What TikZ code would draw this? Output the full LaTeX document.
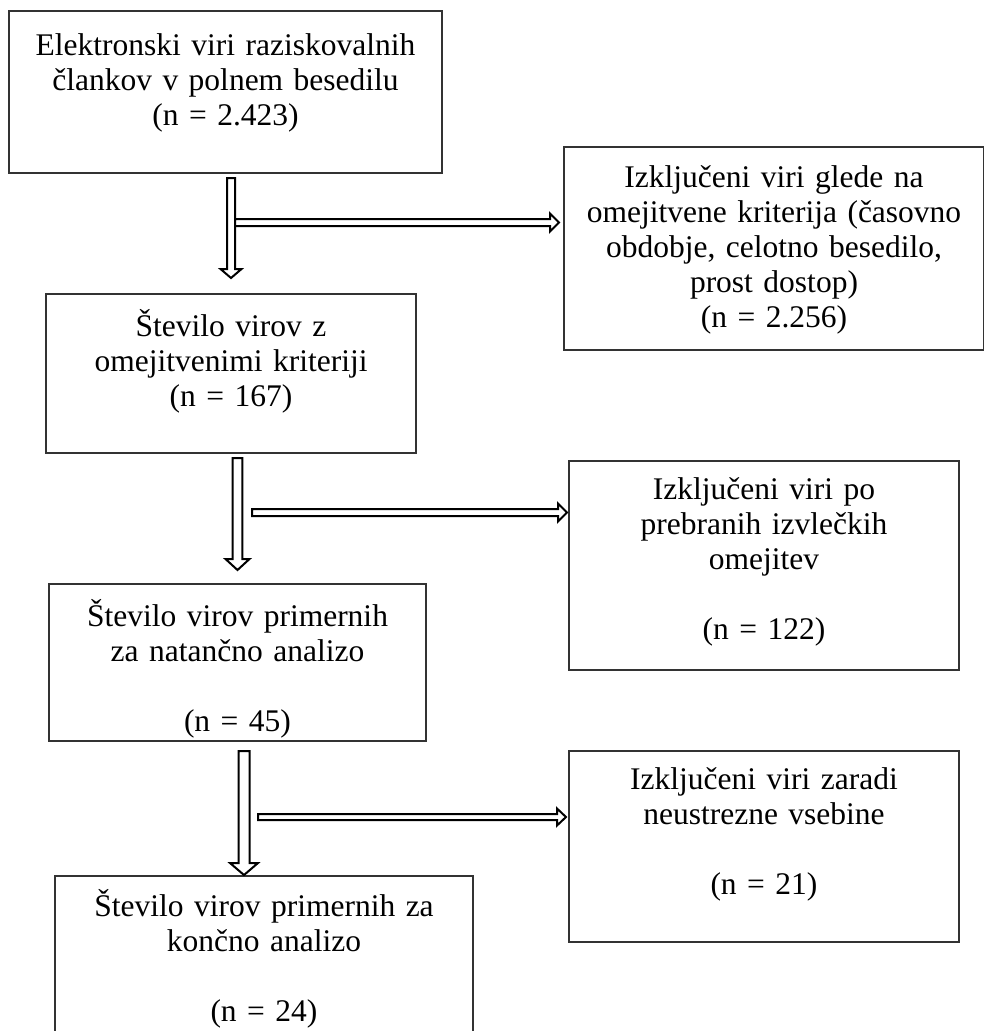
\documentclass[tikz,border=0pt]{standalone}
\usepackage{fontspec}
\setmainfont{Liberation Serif}
\newcommand\dnblock[6]{% cx, top, head base, tip, shaft half, head half
  \draw[blockarrow] (#1-#5,#2) -- (#1+#5,#2) -- (#1+#5,#3) -- (#1+#6,#3) -- (#1,#4) -- (#1-#6,#3) -- (#1-#5,#3) -- cycle;}
\newcommand\rtblock[6]{% cy, left, head base, tip, shaft half, head half
  \draw[blockarrow] (#2,#1-#5) -- (#3,#1-#5) -- (#3,#1-#6) -- (#4,#1) -- (#3,#1+#6) -- (#3,#1+#5) -- (#2,#1+#5) -- cycle;}
\tikzset{
  box/.style={draw=black!80, line width=1.2pt, fill=white, rectangle, inner sep=0pt},
  txt/.style={anchor=base, inner sep=0pt, text width=440pt, align=center,
    font=\fontsize{31.5}{35}\selectfont},
  blockarrow/.style={draw=black, line width=2pt, fill=white, line join=miter}
}
\begin{document}
\begin{tikzpicture}[x=1pt,y=-1pt]
\useasboundingbox (0,0) rectangle (985,1031);
\clip (0,0) rectangle (985,1031);
\fill[white] (0,0) rectangle (985,1031);

% boxes
\node[box, minimum width=433pt, minimum height=162pt] (b1) at (225.5,92) {};
\node[box, minimum width=419.5pt, minimum height=203pt] (bA) at (773.75,248.5) {};
\node[box, minimum width=370pt, minimum height=159pt] (b2) at (231,373.5) {};
\node[box, minimum width=390pt, minimum height=209pt] (bB) at (764,565.5) {};
\node[box, minimum width=377pt, minimum height=157pt] (b3) at (237.5,662.5) {};
\node[box, minimum width=390pt, minimum height=191pt] (bC) at (764,846.5) {};
\node[box, minimum width=418pt, minimum height=184pt] (b4) at (264,968) {};

% texts
\node[txt] (t1) at (225.5,55) {Elektronski viri raziskovalnih\\ člankov v polnem besedilu\\ (n = 2.423)};
\node[txt] (tA) at (774,187) {Izključeni viri glede na\\ omejitvene kriterija (časovno\\ obdobje, celotno besedilo,\\ prost dostop)\\ (n = 2.256)};
\node[txt] (t2) at (231,336) {Število virov z\\ omejitvenimi kriteriji\\ (n = 167)};
\node[txt] (tB) at (764,499) {Izključeni viri po\\ prebranih izvlečkih\\ omejitev\\ \mbox{}\\ (n = 122)};
\node[txt] (t3) at (237.5,626) {Število virov primernih\\ za natančno analizo\\ \mbox{}\\ (n = 45)};
\node[txt] (tC) at (764,789) {Izključeni viri zaradi\\ neustrezne vsebine\\ \mbox{}\\ (n = 21)};
\node[txt] (t4) at (264,916) {Število virov primernih za\\ končno analizo\\ \mbox{}\\ (n = 24)};

% block arrows
\dnblock{231}{178}{269}{278}{4}{10.5}
\rtblock{222.5}{235}{550}{559}{3.5}{9}
\dnblock{237.5}{458}{559}{570}{4.8}{12}
\rtblock{512.5}{252}{558}{567}{3.5}{9}
\dnblock{244}{751}{863}{875}{5.5}{14}
\rtblock{817}{258}{557}{566}{3}{8.5}
\end{tikzpicture}
\end{document}
